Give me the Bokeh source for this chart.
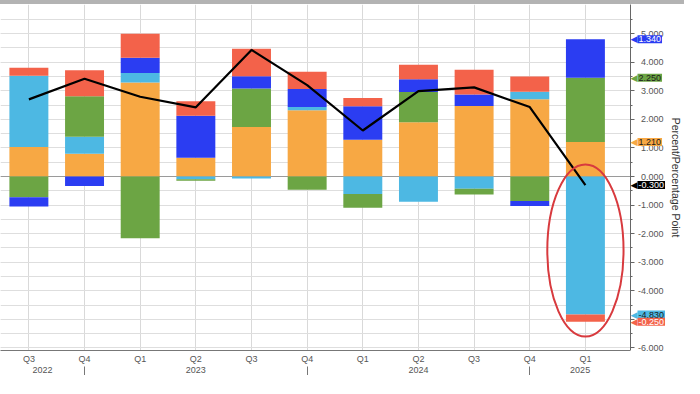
import numpy as np
from bokeh.plotting import figure
from bokeh.models import (Range1d, FixedTicker, LinearAxis, NumeralTickFormatter,
                          CustomJSTickFormatter, Span, Label, Div, Grid)
from bokeh.layouts import column, row
from bokeh.embed import file_html
from bokeh.resources import INLINE

# ---------------- data ----------------
quarters = ["Q3", "Q4", "Q1", "Q2", "Q3", "Q4", "Q1", "Q2", "Q3", "Q4", "Q1"]
years = ["2022", "2022", "2023", "2023", "2023", "2023", "2024", "2024", "2024", "2024", "2025"]
orange = [1.03, 0.80, 3.29, 0.66, 1.73, 2.32, 1.29, 1.90, 2.47, 2.70, 1.21]
light_blue = [2.50, 0.59, 0.33, -0.10, -0.07, 0.11, -0.61, -0.88, -0.43, 0.27, -4.83]
green = [-0.73, 1.42, -2.16, -0.05, 1.35, -0.46, -0.48, 1.06, -0.20, -0.86, 2.25]
blue = [-0.32, -0.33, 0.54, 1.47, 0.43, 0.63, 1.17, 0.44, 0.40, -0.17, 1.34]
red = [0.28, 0.91, 0.84, 0.50, 0.96, 0.61, 0.29, 0.51, 0.87, 0.53, -0.25]
gdp = [2.70, 3.42, 2.79, 2.42, 4.43, 3.20, 1.61, 2.99, 3.12, 2.43, -0.30]

series = [orange, light_blue, green, blue, red]
colors = ["#F7A844", "#4DB8E3", "#6CA544", "#2B3DF2", "#F3624A"]
flag_text_colors = ["#1a1a1a", "#1a1a1a", "#1a1a1a", "#ffffff", "#ffffff"]

FONT = "Liberation Sans"
x_start, x_end = -0.51, 10.81
y_start, y_end = -6.09, 6.02
FRAME_H = 346

n = len(quarters)
x = np.arange(n)
y_range = Range1d(y_start, y_end)
yticker = FixedTicker(ticks=list(range(-6, 6)),
                      minor_ticks=[v / 2 for v in range(-12, 12)])

# ---------------- main chart ----------------
p = figure(frame_width=630, frame_height=FRAME_H, output_backend="svg",
           toolbar_location=None, x_range=Range1d(x_start, x_end), y_range=y_range,
           y_axis_location=None, min_border_left=0, min_border_top=0,
           min_border_right=0, min_border_bottom=0)
p.outline_line_color = None
p.background_fill_color = "white"

p.xgrid.grid_line_color = "#d9d9d9"
if len(p.ygrid) == 0:
    p.add_layout(Grid(dimension=1, ticker=yticker))
else:
    p.ygrid.ticker = yticker
for g in p.renderers + p.center:
    if isinstance(g, Grid) and g.dimension == 1:
        g.grid_line_color = "#dedede"
        g.minor_grid_line_color = "#dedede"

# x axis: quarters
xticker = FixedTicker(ticks=list(x))
xax = p.xaxis[0]
xax.ticker = xticker
p.xgrid.ticker = xticker
xax.major_label_overrides = {int(i): q for i, q in zip(x, quarters)}
xax.axis_line_color = "#777777"
xax.major_tick_in = 0
xax.major_tick_out = 0
xax.minor_tick_line_color = None
xax.major_label_standoff = 3
xax.major_label_text_font = FONT
xax.major_label_text_font_size = "9px"
xax.major_label_text_color = "#555555"

# x axis: years, separators at the Q4 positions
q4_idx = [i for i, q in enumerate(quarters) if q == "Q4"]
edges = [x_start] + q4_idx + [x_end]
year_labels = [years[0]] + [years[q + 1] for q in q4_idx]
year_pos = [(edges[i] + edges[i + 1]) / 2 for i in range(len(edges) - 1)]
yr_ax = LinearAxis(
    ticker=FixedTicker(ticks=year_pos, minor_ticks=q4_idx),
    formatter=CustomJSTickFormatter(args=dict(pos=year_pos, lab=year_labels), code="""
        let best = 0, d = 1e9;
        for (let i = 0; i < pos.length; i++) {
            const dd = Math.abs(pos[i] - tick);
            if (dd < d) { d = dd; best = i; }
        }
        return lab[best];
    """))
yr_ax.axis_line_color = None
yr_ax.major_tick_in = 0
yr_ax.major_tick_out = 0
yr_ax.minor_tick_in = 0
yr_ax.minor_tick_out = 9
yr_ax.minor_tick_line_color = "#777777"
yr_ax.major_label_standoff = -9
yr_ax.major_label_text_font = FONT
yr_ax.major_label_text_font_size = "9px"
yr_ax.major_label_text_color = "#555555"
p.add_layout(yr_ax, "below")

# zero line
p.add_layout(Span(location=0, dimension="width", line_color="#9a9a9a",
                  line_width=1, level="underlay"))

# stacked bars
pos_base = np.zeros(n)
neg_base = np.zeros(n)
flags = []
for vals, col, tcol in zip(series, colors, flag_text_colors):
    v = np.array(vals, dtype=float)
    bottom = np.where(v >= 0, pos_base, neg_base)
    top = bottom + v
    pos_base = np.where(v >= 0, top, pos_base)
    neg_base = np.where(v < 0, top, neg_base)
    p.vbar(x=x, width=0.7, bottom=bottom, top=top, fill_color=col, line_color=None)
    flags.append((top[-1], f"{v[-1]:.3f}", col, tcol))

# total line
p.line(x, gdp, line_color="black", line_width=2.2)
flags.append((gdp[-1], f"{gdp[-1]:.3f}", "#000000", "#ffffff"))

# highlight ellipse around the latest quarter
ell_top = 0.42
ell_bottom = neg_base[-1] - 0.52
p.ellipse(x=[x[-1]], y=[(ell_top + ell_bottom) / 2], width=[1.37],
          height=[ell_top - ell_bottom], fill_color=None,
          line_color="#D83A3E", line_width=2)

# ---------------- right-hand value axis with flags ----------------
b = figure(frame_width=37, frame_height=FRAME_H, output_backend="svg",
           toolbar_location=None, x_range=Range1d(0, 1), y_range=y_range,
           x_axis_location=None, y_axis_location="left", min_border_left=0,
           min_border_top=0, min_border_right=0, min_border_bottom=10)
b.outline_line_color = None
b.xgrid.grid_line_color = None
b.ygrid.grid_line_color = None
yax = b.yaxis[0]
yax.ticker = yticker
yax.formatter = NumeralTickFormatter(format="0.000")
yax.axis_line_color = "#666666"
yax.major_tick_line_color = "#666666"
yax.minor_tick_line_color = "#666666"
yax.major_tick_in = 4
yax.major_tick_out = 0
yax.minor_tick_in = 2
yax.minor_tick_out = 0
yax.major_label_standoff = -33
yax.major_label_text_font = FONT
yax.major_label_text_font_size = "9px"
yax.major_label_text_color = "#555555"

title_ax = LinearAxis(ticker=FixedTicker(ticks=[]), axis_label="Percent/Percentage Point")
title_ax.axis_line_color = None
title_ax.major_tick_line_color = None
title_ax.minor_tick_line_color = None
title_ax.axis_label_text_font = FONT
title_ax.axis_label_text_font_size = "10.5px"
title_ax.axis_label_text_font_style = "normal"
title_ax.axis_label_text_color = "#333333"
title_ax.axis_label_standoff = 2
b.add_layout(title_ax, "right")

for yv, txt, col, tcol in flags:
    b.add_layout(Label(x=0, y=yv, text="\u25C0", x_offset=0, text_color=col,
                       text_font_size="9px", text_baseline="middle",
                       text_align="left", text_font="DejaVu Sans"))
    b.add_layout(Label(x=0, y=yv, text=txt, x_offset=7, text_color=tcol,
                       text_font=FONT, text_font_size="9px", text_baseline="middle",
                       text_align="left", background_fill_color=col,
                       background_fill_alpha=1.0, padding=1))

band = Div(text="", width=684, height=4, margin=0,
           styles={"background-color": "#b3b3b3"})
layout = column(band, row(p, b, spacing=0), spacing=0)

open("out.html", "w").write(file_html(layout, INLINE))
